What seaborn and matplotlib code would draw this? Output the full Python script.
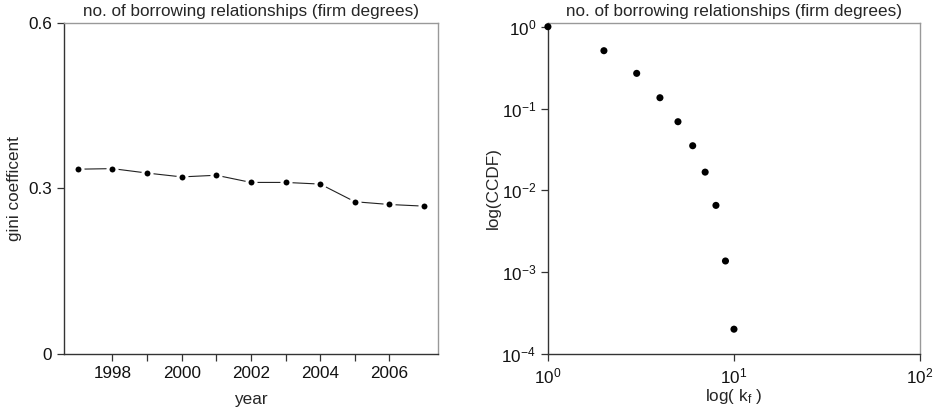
import numpy as np
import pandas as pd
import matplotlib
matplotlib.use("Agg")
import matplotlib.pyplot as plt
import seaborn as sns

# Gini coefficient of firm degrees per year
years = [1997, 1998, 1999, 2000, 2001, 2002, 2003, 2004, 2005, 2006, 2007]
gini = [0.335, 0.336, 0.328, 0.321, 0.324, 0.311, 0.311, 0.308, 0.276, 0.271, 0.268]

# Complementary CDF of the number of borrowing relationships
degree = [1, 2, 3, 4, 5, 6, 7, 8, 9, 10]
ccdf = [1.0, 0.509, 0.269, 0.1355, 0.069, 0.0351, 0.0167, 0.00655, 0.00137, 0.000201]

title = "no. of borrowing relationships (firm degrees)"

sns.set_style("ticks")
plt.rcParams["font.family"] = ["Liberation Sans", "DejaVu Sans"]
plt.rcParams["mathtext.fontset"] = "custom"
plt.rcParams["mathtext.rm"] = "Liberation Sans"
plt.rcParams["mathtext.it"] = "Liberation Sans:italic"
plt.rcParams["mathtext.default"] = "regular"

fig = plt.figure(figsize=(9.35, 4.15), dpi=100)
ax1 = fig.add_axes([0.0684, 0.147, 0.400, 0.7976])
ax2 = fig.add_axes([0.586, 0.147, 0.398, 0.7976])

fs = 12.3

def style_frame(ax):
    for side in ("left", "bottom"):
        ax.spines[side].set_color("#333333")
        ax.spines[side].set_linewidth(1.0)
    for side in ("top", "right"):
        ax.spines[side].set_visible(True)
        ax.spines[side].set_color("#999999")
        ax.spines[side].set_linewidth(1.0)
    ax.tick_params(axis="both", which="both", direction="out", length=5,
                   width=0.9, color="#333333", labelsize=fs, labelcolor="#111111")
    ax.tick_params(axis="y", pad=3.6)
    ax.tick_params(axis="x", pad=4.0)

# Left panel: yearly Gini coefficient, points joined by gapped line
df1 = pd.DataFrame({"year": years, "gini": gini})
sns.lineplot(data=df1, x="year", y="gini", ax=ax1, color="#222222",
             linewidth=0.8, marker="o", markersize=6.5,
             markerfacecolor="black", markeredgecolor="white",
             markeredgewidth=2.2)
ax1.set_xlim(1996.6, 2007.4)
ax1.set_ylim(0, 0.6)
ax1.set_yticks([0, 0.3, 0.6])
ax1.set_yticklabels(["0", "0.3", "0.6"])
xt = list(range(1998, 2007))
ax1.set_xticks(xt)
ax1.set_xticklabels([str(y) if y % 2 == 0 else "" for y in xt])
ax1.set_xlabel("year", fontsize=fs)
ax1.set_ylabel("gini coefficent", fontsize=fs)
ax1.xaxis.set_label_coords(0.5, -0.115)
ax1.yaxis.set_label_coords(-0.112, 0.5)
ax1.set_title(title, fontsize=fs, pad=5.0)
style_frame(ax1)

# Right panel: log-log CCDF of firm degrees
df2 = pd.DataFrame({"k": degree, "ccdf": ccdf})
sns.scatterplot(data=df2, x="k", y="ccdf", ax=ax2, color="black",
                s=26, edgecolor="none", clip_on=False, zorder=5)
ax2.set_xscale("log")
ax2.set_yscale("log")
ax2.set_xlim(1, 100)
ax2.set_ylim(1e-4, 1.11)
ax2.set_xticks([1, 10, 100])
ax2.set_yticks([1, 1e-1, 1e-2, 1e-3, 1e-4])
ax2.minorticks_off()
ax2.set_xlabel(r"log( k$_\mathregular{f}$ )", fontsize=fs)
ax2.set_ylabel("log(CCDF)", fontsize=fs)
ax2.xaxis.set_label_coords(0.5, -0.1)
ax2.yaxis.set_label_coords(-0.127, 0.5)
ax2.set_title(title, fontsize=fs, pad=5.0)
style_frame(ax2)

fig.savefig("out.png", dpi=100)
